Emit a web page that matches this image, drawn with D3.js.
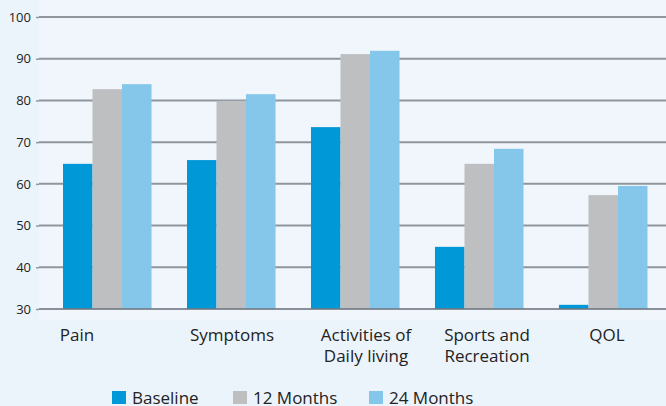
<!DOCTYPE html>
<html>
<head>
<meta charset="utf-8">
<script src="https://cdn.jsdelivr.net/npm/d3@7"></script>
<style>
  body { margin: 0; background: #ecf4fb; }
  svg { display: block; font-family: "Open Sans", sans-serif; }
</style>
</head>
<body>
<svg id="chart" width="666" height="406"></svg>
<script>
// chart data
const categories = ['Pain', 'Symptoms', 'Activities of\nDaily living', 'Sports and\nRecreation', 'QOL'];
const series = ['Baseline', '12 Months', '24 Months'];
const baseline = [64.8, 65.7, 73.6, 44.9, 31.0];
const months12 = [82.7, 79.9, 91.1, 64.8, 57.3];
const months24 = [83.9, 81.5, 91.9, 68.4, 59.5];
const yTicks = [30, 40, 50, 60, 70, 80, 90, 100];

const colors = ['#0098d6', '#bebfc1', '#85c7ea'];
// label centres do not sit exactly under the bar groups in the original, so keep them separate
const labelCenters = [77, 232, 366, 487, 607];

const svg = d3.select('#chart');
const width = 666;
const plotTop = 17, plotBottom = 309, plotLeft = 39;

svg.append('rect').attr('width', width).attr('height', 406).attr('fill', '#ecf4fb');
svg.append('rect').attr('x', plotLeft).attr('y', 0).attr('width', width - plotLeft).attr('height', 320).attr('fill', '#f0f6fc');

let y = d3.scaleLinear().domain([30, 100]).range([plotBottom, plotTop]);
let x = d3.scaleBand().domain(categories).range([63, 647.5]).paddingInner(0.286).paddingOuter(0);
let xs = d3.scaleBand().domain(series).range([0, x.bandwidth()]).padding(0);

// ticks on the left
let yAxis = d3.axisLeft(y).tickValues(yTicks).tickSize(3).tickPadding(5);
let ga = svg.append('g').attr('transform', `translate(${plotLeft},0)`).call(yAxis);
ga.select('.domain').remove();
ga.selectAll('.tick line').attr('stroke', '#8f969d').attr('stroke-width', 1.5);
ga.selectAll('.tick text').attr('fill', '#222').attr('font-size', '13px').attr('font-family', '"Open Sans", sans-serif');

// gridlines
svg.append('g')
    .selectAll('line')
    .data(yTicks.filter((t) => t > 30))
    .enter()
    .append('line')
    .attr('x1', plotLeft)
    .attr('x2', width)
    .attr('y1', (d) => y(d))
    .attr('y2', (d) => y(d))
    .attr('stroke', '#8f969d')
    .attr('stroke-width', 2);

// bars
const values = [baseline, months12, months24];
let groups = svg
    .append('g')
    .selectAll('g')
    .data(categories)
    .enter()
    .append('g')
    .attr('transform', (d) => `translate(${x(d)},0)`);

groups
    .selectAll('rect')
    .data((d, i) => series.map((s, j) => ({ s: s, v: values[j][i], c: colors[j] })))
    .enter()
    .append('rect')
    .attr('x', (d) => xs(d.s))
    .attr('width', xs.bandwidth())
    .attr('y', (d) => y(d.v))
    .attr('height', (d) => y(30) - y(d.v))
    .attr('fill', (d) => d.c);

// bottom axis line on top of bars
svg.append('line')
    .attr('x1', plotLeft)
    .attr('x2', width)
    .attr('y1', y(30))
    .attr('y2', y(30))
    .attr('stroke', '#6f7780')
    .attr('stroke-opacity', 0.8)
    .attr('stroke-width', 2);

// category labels
let labels = svg
    .append('g')
    .selectAll('text')
    .data(categories)
    .enter()
    .append('text')
    .attr('x', (d, i) => labelCenters[i])
    .attr('y', 341)
    .attr('text-anchor', 'middle')
    .attr('font-size', '17px')
    .attr('fill', '#222');
labels
    .selectAll('tspan')
    .data((d) => d.split('\n'))
    .enter()
    .append('tspan')
    .attr('x', function () { return this.parentNode.getAttribute('x'); })
    .attr('dy', (d, i) => (i == 0 ? 0 : 21))
    .text((d) => d);

// legend
const legendX = [112, 233, 369];
let lg = svg
    .append('g')
    .selectAll('g')
    .data(series)
    .enter()
    .append('g')
    .attr('transform', (d, i) => `translate(${legendX[i]},391)`);
lg.append('rect').attr('width', 14).attr('height', 13).attr('fill', (d, i) => colors[i]);
lg.append('text')
    .attr('x', 20)
    .attr('y', 12.5)
    .attr('font-size', '17px')
    .attr('fill', '#222')
    .text((d) => d);
</script>
</body>
</html>
